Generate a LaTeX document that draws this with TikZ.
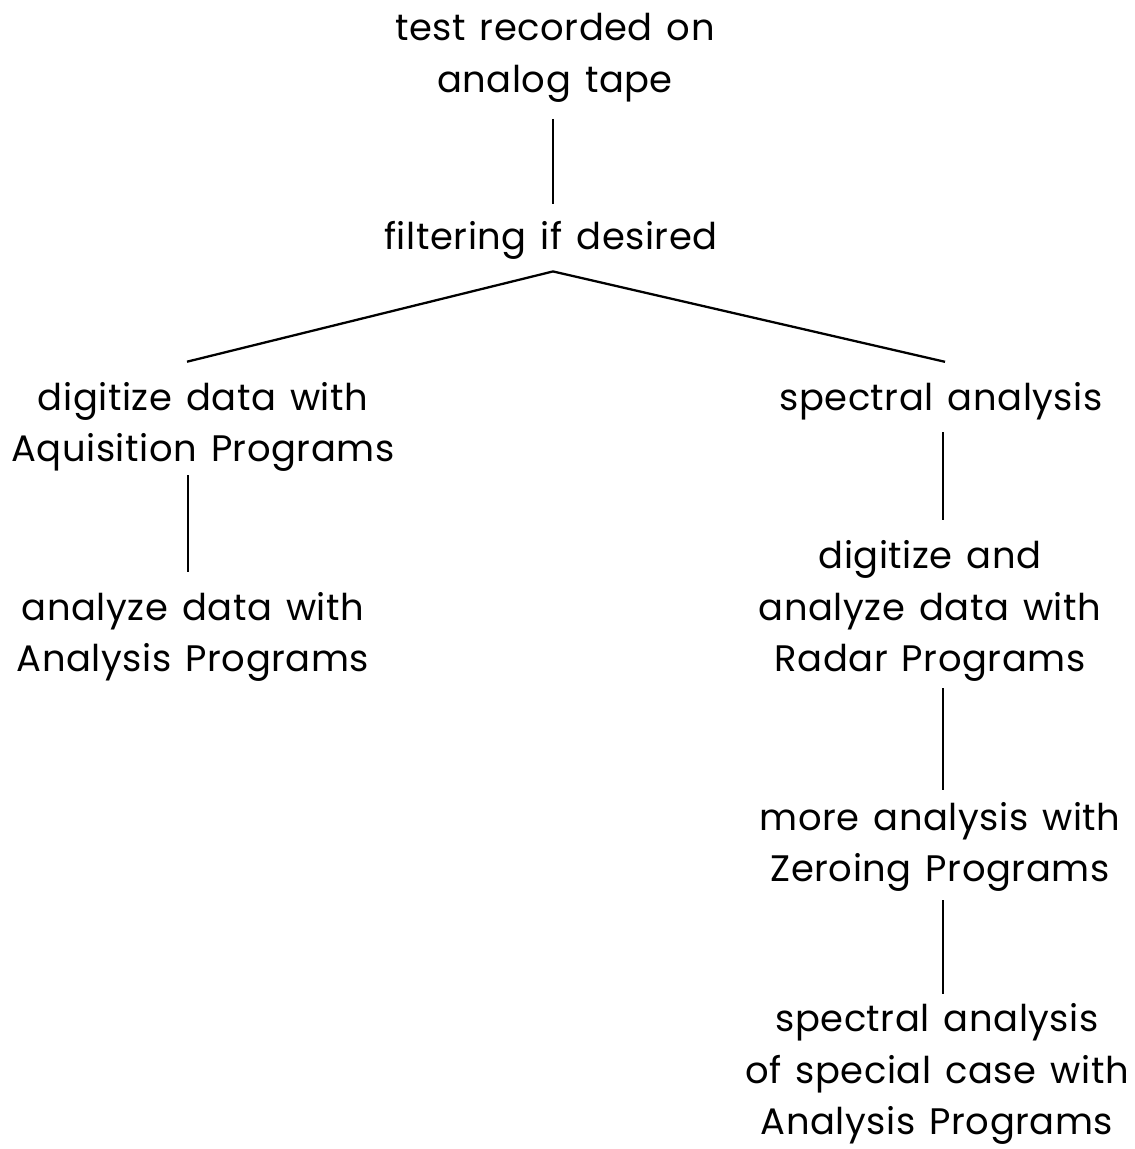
\documentclass[tikz,border=0pt]{standalone}
\usepackage{fontspec}
\setmainfont[LetterSpace=1.5,WordSpace=1.35]{Poppins}
\usetikzlibrary{calc}
\begin{document}
\begin{tikzpicture}[x=0.02cm,y=-0.02cm,
  lbl/.style={align=center, inner sep=0pt, font=\fontsize{21}{29.5}\selectfont},
  con/.style={line width=1.3pt}]
\useasboundingbox (0,0) rectangle (1135,1149);
\node[lbl] (n1) at (555,58) {test recorded on\\analog tape};
\node[lbl] (n2) at (551,240) {filtering if desired};
\node[lbl] (n3) at (203,427) {digitize data with\\Aquisition Programs};
\node[lbl] (n4) at (193,637) {analyze data with\\Analysis Programs};
\node[lbl] (n5) at (941,401) {spectral analysis};
\node[lbl] (n6) at (930,611) {digitize and\\analyze data with\\Radar Programs};
\node[lbl] (n7) at (940,847) {more analysis with\\Zeroing Programs};
\node[lbl] (n8) at (937,1074) {spectral analysis\\of special case with\\Analysis Programs};
\draw[con] ($(n1.south)+(-2,16)$) -- ($(n2.north)+(2,-17)$);
\draw[con] ($(n2.south)+(2,12)$) -- ($(n3.north)+(-16,-20)$);
\draw[con] ($(n2.south)+(2,12)$) -- ($(n5.north)+(4,-20)$);
\draw[con] ($(n3.south)+(-15,3)$) -- ($(n4.north)+(-5,-20)$);
\draw[con] ($(n5.south)+(2,12)$) -- ($(n6.north)+(13,-20)$);
\draw[con] ($(n6.south)+(13,6)$) -- ($(n7.north)+(3,-12)$);
\draw[con] ($(n7.south)+(3,8)$) -- ($(n8.north)+(6,-9)$);
\end{tikzpicture}
\end{document}
